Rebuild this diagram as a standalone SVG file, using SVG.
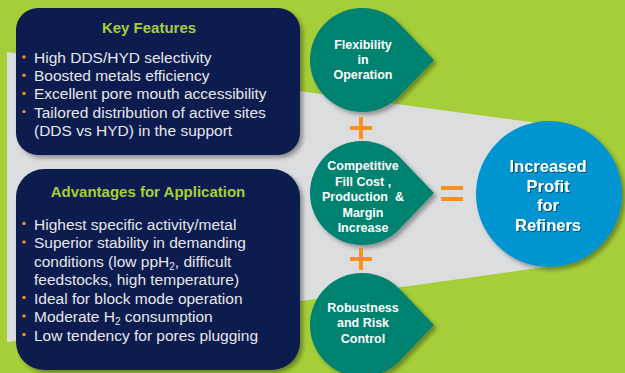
<svg xmlns="http://www.w3.org/2000/svg" width="625" height="373" viewBox="0 0 625 373">
<defs>
<style>
.box{fill:#0C1E4F;}
.title{font-family:"Liberation Sans",Arial,sans-serif;font-weight:bold;fill:#A6CE39;font-size:15px;text-anchor:middle;}
.bul{font-family:"Liberation Sans",Arial,sans-serif;fill:#E6E7E9;font-size:15.5px;}
.dot{fill:#F7901E;}
.drop{fill:#00826F;}
.dt{font-family:"Liberation Sans",Arial,sans-serif;font-weight:bold;fill:#FFFFFF;font-size:12.5px;text-anchor:middle;}
.ct{font-family:"Liberation Sans",Arial,sans-serif;font-weight:bold;fill:#FFFFFF;font-size:16.5px;text-anchor:middle;}
.op{stroke:#F7901E;stroke-width:4;fill:none;}
</style>
<filter id="sh" x="-20%" y="-20%" width="140%" height="140%">
<feDropShadow dx="3" dy="3" stdDeviation="2" flood-color="#000" flood-opacity="0.35"/>
</filter>
<filter id="tsh" x="-20%" y="-20%" width="140%" height="140%">
<feDropShadow dx="1" dy="1" stdDeviation="0.6" flood-color="#000" flood-opacity="0.5"/>
</filter>
</defs>
<rect x="0" y="0" width="625" height="373" fill="#A6CE39"/>
<polygon points="7,52 560,126 560,265 7,342" fill="#DCDDDF"/>

<g id="key-features">
<rect class="box" x="16" y="8" width="284" height="147" rx="22" filter="url(#sh)"/>
<text class="title" x="149" y="33">Key Features</text>
<circle class="dot" cx="24" cy="57" r="1.7"/>
<text class="bul" x="34" y="63">High DDS/HYD selectivity</text>
<circle class="dot" cx="24" cy="75.2" r="1.7"/>
<text class="bul" x="34" y="81.2">Boosted metals efficiency</text>
<circle class="dot" cx="24" cy="93.4" r="1.7"/>
<text class="bul" x="34" y="99.4">Excellent pore mouth accessibility</text>
<circle class="dot" cx="24" cy="111.6" r="1.7"/>
<text class="bul" x="34" y="117.6">Tailored distribution of active sites</text>
<text class="bul" x="34" y="135.8">(DDS vs HYD) in the support</text>
</g>

<g id="advantages">
<rect class="box" x="16" y="169" width="284" height="201" rx="28" filter="url(#sh)"/>
<text class="title" x="148" y="197">Advantages for Application</text>
<circle class="dot" cx="24" cy="223.5" r="1.7"/>
<text class="bul" x="34" y="229.5">Highest specific activity/metal</text>
<circle class="dot" cx="24" cy="242" r="1.7"/>
<text class="bul" x="34" y="248">Superior stability in demanding</text>
<text class="bul" x="34" y="266.5">conditions (low ppH<tspan font-size="10" dy="3">2</tspan><tspan dy="-3">, difficult</tspan></text>
<text class="bul" x="34" y="285">feedstocks, high temperature)</text>
<circle class="dot" cx="24" cy="297.5" r="1.7"/>
<text class="bul" x="34" y="303.5">Ideal for block mode operation</text>
<circle class="dot" cx="24" cy="316" r="1.7"/>
<text class="bul" x="34" y="322">Moderate H<tspan font-size="10" dy="3">2</tspan><tspan dy="-3"> consumption</tspan></text>
<circle class="dot" cx="24" cy="334.5" r="1.7"/>
<text class="bul" x="34" y="340.5">Low tendency for pores plugging</text>
</g>

<g id="flexibility">
<path class="drop" filter="url(#sh)" d="M434,60 L399.55,24.03 A52,52 0 1 0 399.55,95.97 Z"/>
<text class="dt" x="363" y="49">Flexibility</text>
<text class="dt" x="363" y="64">in</text>
<text class="dt" x="363" y="79">Operation</text>
</g>

<g id="competitive">
<path class="drop" filter="url(#sh)" d="M434,193 L399.55,157.03 A52,52 0 1 0 399.55,228.97 Z"/>
<text class="dt" x="363" y="170">Competitive</text>
<text class="dt" x="363" y="186">Fill Cost ,</text>
<text class="dt" x="363" y="201">Production&#160; &amp;</text>
<text class="dt" x="363" y="217">Margin</text>
<text class="dt" x="363" y="232">Increase</text>
</g>

<g id="robustness">
<path class="drop" filter="url(#sh)" d="M434,325 L399.55,289.03 A52,52 0 1 0 399.55,360.97 Z"/>
<text class="dt" x="363" y="312">Robustness</text>
<text class="dt" x="363" y="327">and Risk</text>
<text class="dt" x="363" y="343">Control</text>
</g>

<g id="profit">
<circle cx="549" cy="194" r="73" fill="#0094D1" filter="url(#sh)"/>
<g filter="url(#tsh)">
<text class="ct" x="548" y="172">Increased</text>
<text class="ct" x="548" y="191.5">Profit</text>
<text class="ct" x="548" y="211">for</text>
<text class="ct" x="548" y="230.5">Refiners</text>
</g>
</g>

<g id="connectors">
<path class="op" d="M350,128 H372 M361,117 V139"/>
<path class="op" d="M350,259 H372 M361,248 V270"/>
<path class="op" d="M441,188 H463 M441,199 H463"/>
</g>
</svg>
